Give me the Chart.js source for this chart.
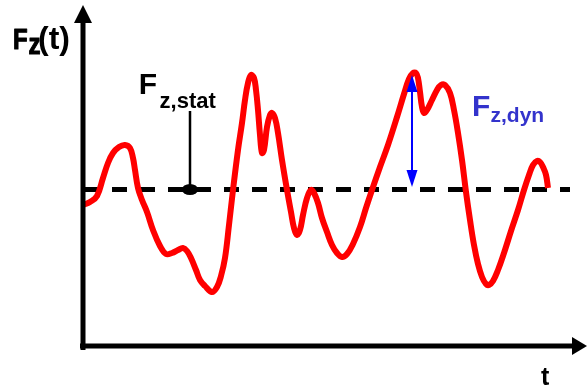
<!DOCTYPE html>
<html>
<head>
<meta charset="utf-8">
<script src="https://cdn.jsdelivr.net/npm/chart.js@4.4.1/dist/chart.umd.min.js"></script>
<style>
  html, body { margin: 0; padding: 0; background: #ffffff; }
  canvas { display: block; }
</style>
</head>
<body>
<canvas id="chart" width="588" height="391"></canvas>
<script>
// Wheel load signal F_z(t): time samples and force values (arbitrary units)
const timeValues = [
  0, 0.7, 1.4, 2.0, 2.5, 3.0, 3.6, 4.2, 4.7, 5.0, 5.2, 5.5, 5.9, 6.4, 7.0, 7.7,
  8.3, 8.9, 9.5, 10.0, 10.4, 10.8, 11.3, 11.7, 12.2, 12.9, 13.4, 13.8, 14.2, 14.6,
  15.0, 15.5, 15.9, 16.2, 16.5, 16.8, 17.1, 17.3, 17.5, 17.7, 17.9, 18.1, 18.4,
  18.7, 18.9, 19.2, 19.5, 19.9, 20.4, 20.8, 21.1, 21.4, 21.7, 22.0, 22.4, 22.8,
  23.1, 23.5, 23.9, 24.4, 24.9, 25.4, 25.9, 26.4, 27.0, 27.7, 28.3, 28.9, 29.7,
  30.5, 31.4, 32.1, 32.6, 33.0, 33.3, 33.5, 33.7, 33.9, 34.1, 34.4, 34.9, 35.4,
  35.8, 36.2, 36.7, 37.1, 37.5, 37.9, 38.3, 38.7, 39.1, 39.5, 39.9, 40.3, 40.6,
  41.0, 41.5, 42.1, 42.8, 43.5, 44.1, 44.6, 45.0, 45.4, 45.7, 46.0, 46.3, 46.5
];
const forceValues = [
  14.1, 14.4, 15.0, 16.8, 18.3, 19.3, 19.9, 20.1, 19.8, 18.8, 17.6, 15.8, 14.6, 13.4, 11.6, 10.0,
  9.2, 9.3, 9.6, 9.8, 9.5, 8.8, 7.6, 6.6, 6.0, 5.4, 5.9, 7.0, 8.8, 12.1,
  15.6, 19.6, 22.3, 24.6, 26.3, 27.1, 26.8, 25.6, 23.6, 21.1, 19.3, 19.6, 21.9,
  23.1, 23.3, 22.8, 21.3, 18.6, 15.6, 13.4, 11.8, 11.1, 11.6, 13.1, 14.8, 15.6,
  15.3, 14.3, 12.8, 11.4, 10.1, 9.3, 8.9, 9.2, 10.2, 11.9, 13.8, 15.6, 17.9,
  20.1, 22.9, 25.2, 26.7, 27.3, 27.3, 26.8, 25.4, 23.9, 23.3, 23.6, 24.6, 25.6,
  26.1, 26.1, 25.3, 23.6, 21.3, 18.6, 15.4, 12.6, 10.1, 8.2, 6.9, 6.2, 6.1,
  6.5, 7.6, 9.3, 11.5, 13.6, 15.6, 17.1, 18.1, 18.5, 18.4, 17.9, 17.1, 15.8
];

// Static load level and the dashed reference line span
const staticForce = 15.65;
const staticLineTimes = [0.1, 48.7];
// Pointer to the static level
const staticMarkerTime = 10.7;
const staticMarkerTop = 23.5;
// Dynamic amplitude arrow (peak down to static level)
const dynamicArrowTime = 32.9;
const dynamicPeakForce = 27.1;
const dynamicBaseForce = 15.9;
// Axis extents
const timeAxisEnd = 50.4;
const forceAxisEnd = 34.1;
const axisStart = [-0.3, -0.4];

const curvePoints = timeValues.map((t, i) => ({ x: t, y: forceValues[i] }));

const FONT = '"Liberation Sans", Arial, Helvetica, sans-serif';
const NARROW = '"Liberation Sans Narrow", "Arial Narrow", "Liberation Sans", Arial, sans-serif';
const BLUE_TEXT = '#3333cc';

// Text runs of the annotations, anchored in data units (left, baseline)
const textRuns = [
  { text: 'F',      t: -7.0,  f: 29.73, size: 30, narrow: true, color: '#000' },
  { text: 'z',      t: -5.45, f: 29.23, size: 30, narrow: true, color: '#000' },
  { text: '(t)',    t: -4.5,  f: 29.75, size: 32, color: '#000' },
  { text: 'F',      t: 5.58,  f: 25.17, size: 30, color: '#000' },
  { text: 'z,stat', t: 7.66,  f: 23.85, size: 22, color: '#000' },
  { text: 'F',      t: 38.9,  f: 22.97, size: 30, color: BLUE_TEXT },
  { text: 'z,dyn',  t: 40.75, f: 22.37, size: 21, color: BLUE_TEXT },
  { text: 't',      t: 45.8,  f: -3.85, size: 25, color: '#000' }
];

function arrowHead(ctx, tipX, tipY, dirX, dirY, len, halfW, color) {
  const bx = tipX - dirX * len, by = tipY - dirY * len;
  const nx = -dirY, ny = dirX;
  ctx.beginPath();
  ctx.moveTo(tipX, tipY);
  ctx.lineTo(bx + nx * halfW, by + ny * halfW);
  ctx.lineTo(bx - nx * halfW, by - ny * halfW);
  ctx.closePath();
  ctx.fillStyle = color;
  ctx.fill();
}

const annotations = {
  id: 'annotations',
  afterDatasetsDraw(chart) {
    const ctx = chart.ctx;
    const xs = chart.scales.x, ys = chart.scales.y;
    const X = v => xs.getPixelForValue(v);
    const Y = v => ys.getPixelForValue(v);
    ctx.save();

    // Coordinate axes with arrow tips
    const ox = X(0), oy = Y(0);
    ctx.strokeStyle = '#000';
    ctx.lineWidth = 5;
    ctx.lineCap = 'butt';
    ctx.beginPath();
    ctx.moveTo(ox, Y(axisStart[1]));
    ctx.lineTo(ox, Y(forceAxisEnd) + 16);
    ctx.moveTo(X(axisStart[0]), oy);
    ctx.lineTo(X(timeAxisEnd) - 13, oy);
    ctx.stroke();
    arrowHead(ctx, ox, Y(forceAxisEnd), 0, -1, 18, 9, '#000');
    arrowHead(ctx, X(timeAxisEnd), oy, 1, 0, 15, 9, '#000');

    // Marker dot on the static level
    ctx.beginPath();
    ctx.ellipse(X(staticMarkerTime), Y(staticForce), 8, 5.5, 0, 0, Math.PI * 2);
    ctx.fillStyle = '#000';
    ctx.fill();

    // Arrow heads of the dynamic amplitude
    arrowHead(ctx, X(dynamicArrowTime), Y(dynamicPeakForce), 0, -1, 17, 5.5, '#0000ff');
    arrowHead(ctx, X(dynamicArrowTime), Y(dynamicBaseForce), 0, 1, 17, 5.5, '#0000ff');

    // Condensed face for the axis title; squeeze the regular face if it is missing
    ctx.font = 'bold 30px ' + NARROW;
    const wNarrow = ctx.measureText('FFFF').width;
    ctx.font = 'bold 30px ' + FONT;
    const wRegular = ctx.measureText('FFFF').width;
    const narrowScale = wNarrow < wRegular * 0.92 ? 1 : 0.8;

    // Labels
    ctx.textAlign = 'left';
    ctx.textBaseline = 'alphabetic';
    textRuns.forEach(r => {
      ctx.save();
      ctx.translate(X(r.t), Y(r.f));
      ctx.scale(r.narrow ? narrowScale : 1, 1);
      ctx.font = 'bold ' + r.size + 'px ' + (r.narrow ? NARROW : FONT);
      ctx.fillStyle = r.color;
      ctx.fillText(r.text, 0, 0);
      if (r.narrow) {
        // keep the stems as heavy as the other bold labels
        ctx.strokeStyle = r.color;
        ctx.lineWidth = 1.1;
        ctx.lineJoin = 'round';
        ctx.strokeText(r.text, 0, 0);
      }
      ctx.restore();
    });
    ctx.restore();
  }
};

new Chart(document.getElementById('chart'), {
  type: 'scatter',
  data: {
    datasets: [
      {
        label: 'F_z(t)',
        data: curvePoints,
        showLine: true,
        borderColor: '#ff0000',
        borderWidth: 6,
        tension: 0.4,
        borderJoinStyle: 'round',
        pointRadius: 0,
        order: 0
      },
      {
        label: 'F_z,stat',
        data: staticLineTimes.map(t => ({ x: t, y: staticForce })),
        showLine: true,
        borderColor: '#000000',
        borderWidth: 5,
        borderDash: [15, 13],
        pointRadius: 0,
        order: 2
      },
      {
        label: 'stat pointer',
        data: [{ x: staticMarkerTime, y: staticMarkerTop }, { x: staticMarkerTime, y: staticForce }],
        showLine: true,
        borderColor: '#000000',
        borderWidth: 2.5,
        pointRadius: 0,
        order: 1
      },
      {
        label: 'F_z,dyn',
        data: [{ x: dynamicArrowTime, y: dynamicPeakForce - 1.2 }, { x: dynamicArrowTime, y: dynamicBaseForce + 1.2 }],
        showLine: true,
        borderColor: '#0000ff',
        borderWidth: 2,
        pointRadius: 0,
        order: 1
      }
    ]
  },
  options: {
    responsive: false,
    animation: false,
    devicePixelRatio: 1,
    layout: { padding: 0 },
    plugins: {
      legend: { display: false },
      tooltip: { enabled: false }
    },
    scales: {
      x: { type: 'linear', min: -8.3, max: 50.5, display: false },
      y: { type: 'linear', min: -4.5, max: 34.6, display: false }
    }
  },
  plugins: [annotations]
});
</script>
</body>
</html>
